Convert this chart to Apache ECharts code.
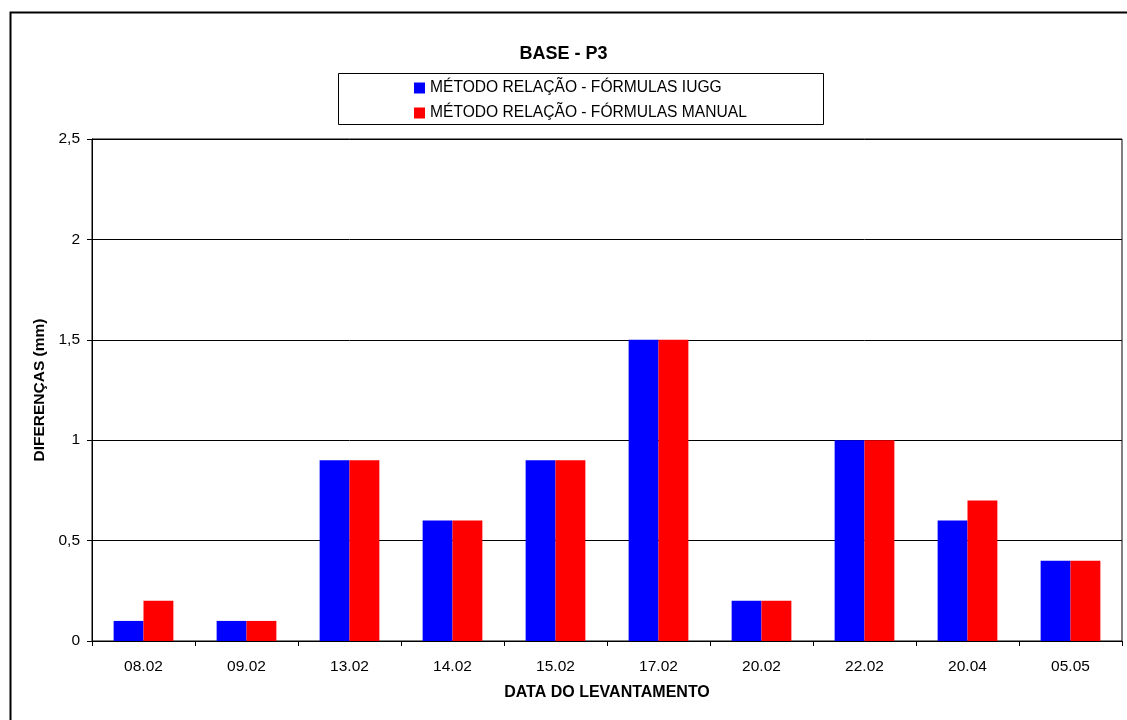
<!DOCTYPE html>
<html>
<head>
<meta charset="utf-8">
<script src="https://cdn.jsdelivr.net/npm/echarts@6/dist/echarts.min.js"></script>
<style>
  html, body { margin: 0; padding: 0; background: #ffffff; }
  #chart { width: 1127px; height: 720px; }
</style>
</head>
<body>
<div id="chart"></div>
<script>
// Survey dates (x axis)
const categories = ['08.02', '09.02', '13.02', '14.02', '15.02', '17.02', '20.02', '22.02', '20.04', '05.05'];
// Differences in mm for each computation method
const iuggValues = [0.1, 0.1, 0.9, 0.6, 0.9, 1.5, 0.2, 1.0, 0.6, 0.4];
const manualValues = [0.2, 0.1, 0.9, 0.6, 0.9, 1.5, 0.2, 1.0, 0.7, 0.4];
const seriesNames = ['MÉTODO RELAÇÃO - FÓRMULAS IUGG', 'MÉTODO RELAÇÃO - FÓRMULAS MANUAL'];

const FONT = '"Liberation Sans", Arial, sans-serif';
const chart = echarts.init(document.getElementById('chart'), null, { renderer: 'canvas' });

chart.setOption({
  backgroundColor: '#ffffff',
  animation: false,
  title: {
    text: 'BASE - P3',
    left: 'center',
    top: 40,
    textStyle: { fontFamily: FONT, fontSize: 18, fontWeight: 'bold', color: '#000' }
  },
  graphic: [
    { // outer frame of the chart area
      type: 'rect', left: 8, top: 10, z: -10,
      shape: { width: 1200, height: 800 },
      style: { fill: 'none', stroke: '#000', lineWidth: 2 }
    },
    { // legend frame
      type: 'rect', left: 338, top: 73, z: -5,
      shape: { width: 485, height: 51 },
      style: { fill: '#fff', stroke: '#000', lineWidth: 1 }
    }
  ],
  legend: {
    orient: 'vertical',
    left: 414,
    top: 80,
    padding: 0,
    itemWidth: 11,
    itemHeight: 11,
    itemGap: 9,
    icon: 'rect',
    data: seriesNames,
    textStyle: { fontFamily: FONT, fontSize: 15.6, color: '#000', lineHeight: 15 }
  },
  grid: {
    left: 92, right: 5, top: 139, bottom: 79,
    show: true, borderColor: '#000', borderWidth: 1,
    containLabel: false
  },
  xAxis: {
    type: 'category',
    data: categories,
    boundaryGap: true,
    name: 'DATA DO LEVANTAMENTO',
    nameLocation: 'middle',
    nameGap: 44,
    nameTextStyle: { fontFamily: FONT, fontSize: 16, fontWeight: 'bold', color: '#000' },
    axisLine: { lineStyle: { color: '#000', width: 1 } },
    axisTick: { show: true, length: 5, alignWithLabel: false, lineStyle: { color: '#000' } },
    axisLabel: { fontFamily: FONT, fontSize: 15.5, color: '#000', margin: 18 }
  },
  yAxis: {
    type: 'value',
    min: 0, max: 2.5, interval: 0.5,
    name: 'DIFERENÇAS (mm)',
    nameLocation: 'middle',
    nameGap: 44,
    nameTextStyle: { fontFamily: FONT, fontSize: 15.5, fontWeight: 'bold', color: '#000' },
    axisLine: { show: true, lineStyle: { color: '#000', width: 1 } },
    axisTick: { show: true, length: 5, lineStyle: { color: '#000' } },
    axisLabel: {
      fontFamily: FONT, fontSize: 15.5, color: '#000', margin: 12,
      formatter: v => String(v).replace('.', ',')
    },
    splitLine: { show: true, lineStyle: { color: '#000', width: 1 } }
  },
  series: [
    {
      name: seriesNames[0], type: 'bar', data: iuggValues,
      itemStyle: { color: '#0000ff' },
      barGap: '0%', barCategoryGap: '42%'
    },
    {
      name: seriesNames[1], type: 'bar', data: manualValues,
      itemStyle: { color: '#ff0000' },
      barGap: '0%', barCategoryGap: '42%'
    }
  ]
});
</script>
</body>
</html>
